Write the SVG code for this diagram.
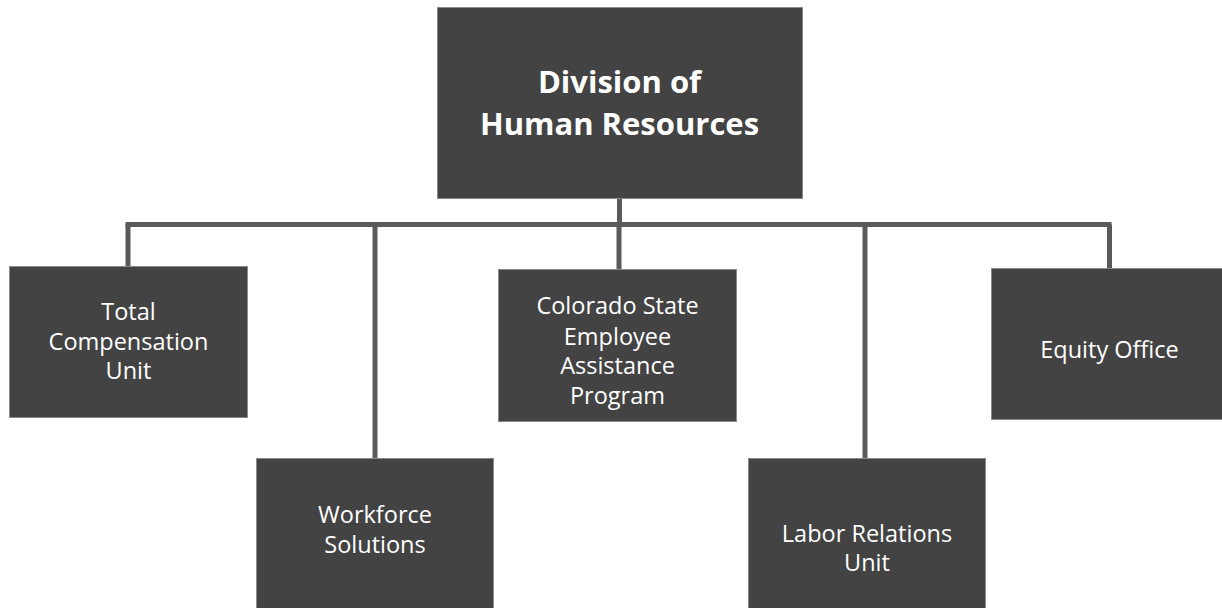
<svg xmlns="http://www.w3.org/2000/svg" width="1222" height="608" viewBox="0 0 1222 608">
<style>
.box{fill:#434343;stroke:#8a8a8a;stroke-width:1}
.lbl{font-family:"Open Sans","Liberation Sans",sans-serif;font-size:23.5px;fill:#ffffff;text-anchor:middle}
.ttl{font-family:"Open Sans","Liberation Sans",sans-serif;font-size:31px;font-weight:bold;fill:#ffffff;text-anchor:middle}
.con{stroke:#5a5a5a;stroke-width:5;fill:none;stroke-linecap:butt}
</style>
<rect width="1222" height="608" fill="#ffffff"/>
<g id="connectors">
<path class="con" d="M619.5 198 V224.5"/>
<path class="con" d="M125.5 224.5 H1111.5"/>
<path class="con" d="M128 224.5 V266"/>
<path class="con" d="M375 224.5 V458"/>
<path class="con" d="M619 224.5 V269"/>
<path class="con" d="M865 224.5 V458"/>
<path class="con" d="M1109.5 224.5 V268"/>
</g>
<g id="division">
<rect class="box" x="437.5" y="7.5" width="365" height="191"/>
<text class="ttl" x="619.5" y="93">Division of</text>
<text class="ttl" x="619.5" y="135">Human Resources</text>
</g>
<g id="total-compensation">
<rect class="box" x="9.5" y="266.5" width="238" height="151"/>
<text class="lbl" x="128.5" y="320">Total</text>
<text class="lbl" x="128.5" y="349.5">Compensation</text>
<text class="lbl" x="128.5" y="379">Unit</text>
</g>
<g id="workforce">
<rect class="box" x="256.5" y="458.5" width="237" height="155"/>
<text class="lbl" x="375" y="523">Workforce</text>
<text class="lbl" x="375" y="553">Solutions</text>
</g>
<g id="csea">
<rect class="box" x="498.5" y="269.5" width="238" height="152"/>
<text class="lbl" x="617.5" y="314">Colorado State</text>
<text class="lbl" x="617.5" y="344.5">Employee</text>
<text class="lbl" x="617.5" y="374">Assistance</text>
<text class="lbl" x="617.5" y="403.5">Program</text>
</g>
<g id="labor">
<rect class="box" x="748.5" y="458.5" width="237" height="155"/>
<text class="lbl" x="867" y="542">Labor Relations</text>
<text class="lbl" x="867" y="571">Unit</text>
</g>
<g id="equity">
<rect class="box" x="991.5" y="268.5" width="238" height="151"/>
<text class="lbl" x="1109.5" y="358">Equity Office</text>
</g>
</svg>
